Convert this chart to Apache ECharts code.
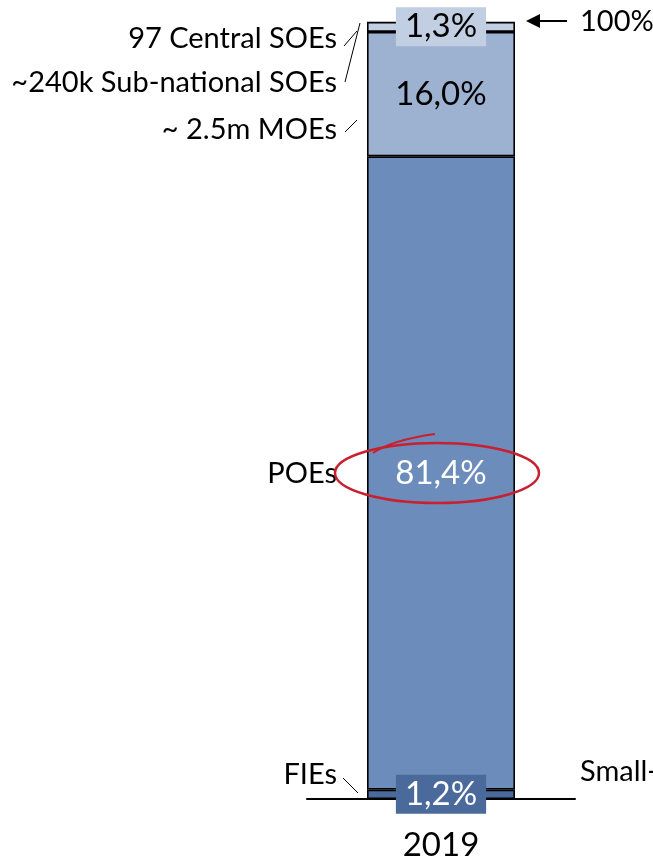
<!DOCTYPE html>
<html><head><meta charset="utf-8">
<script src="https://cdn.jsdelivr.net/npm/echarts@6/dist/echarts.min.js"></script>
<style>html,body{margin:0;padding:0;background:#fff;}#c{width:653px;height:863px;}</style>
</head><body><div id="c"></div>
<script>
const categories = ['2019'];
const seriesNames = ['FIEs', 'POEs', 'MOEs', 'SOEs'];
const fies = [1.2];
const poes = [81.4];
const moes = [16.0];
const soes = [1.3];
const valueLabels = ['1,2%', '81,4%', '16,0%', '1,3%'];

const FONT = 'Lato, "Open Sans", sans-serif';
const chart = echarts.init(document.getElementById('c'));
const colors = ['#4a6a9c', '#6c8dbb', '#9db1d1', '#c2cee2'];
const labelStyles = [
  {color: '#fff', backgroundColor: '#4a6a9c', padding: [4, 9, 2, 9]},
  {color: '#fff'},
  {color: '#000'},
  {color: '#000', backgroundColor: '#c2cee2', padding: [4, 9, 2, 9]}
];
const datas = [fies, poes, moes, soes];
chart.setOption({
  animation: false,
  grid: {left: 307, right: 78, top: 21, bottom: 64},
  xAxis: {
    type: 'category', data: categories,
    axisLine: {lineStyle: {color: '#000', width: 2}},
    axisTick: {show: false},
    axisLabel: {color: '#000', fontSize: 33, fontFamily: FONT, margin: 30}
  },
  yAxis: {type: 'value', min: 0, max: 100, show: false, splitLine: {show: false}},
  series: seriesNames.map((n, i) => ({
    name: n, type: 'bar', stack: 'a', barWidth: 148,
    data: datas[i],
    itemStyle: {color: colors[i], borderColor: '#000', borderWidth: 1.6},
    label: Object.assign({
      show: true, position: 'inside', fontSize: 33, fontFamily: FONT,
      formatter: () => valueLabels[i]
    }, labelStyles[i])
  }))
});

const txt = (x, y, s, align) => ({type: 'text', z: 100, x: x, y: y, style: {text: s, fontSize: 29, fontFamily: FONT, fill: '#000', align: align || 'right', verticalAlign: 'middle'}});
const ln = (x1, y1, x2, y2) => ({type: 'line', z: 100, shape: {x1, y1, x2, y2}, style: {stroke: '#000', lineWidth: 1}});
chart.setOption({
  graphic: [
    txt(337, 39, '97 Central SOEs'),
    txt(337, 83, '~240k Sub-national SOEs'),
    txt(337, 130, '~ 2.5m MOEs'),
    txt(337, 474, 'POEs'),
    txt(337, 775, 'FIEs'),
    txt(580, 772, 'Small-', 'left'),
    txt(580, 22, '100%', 'left'),
    ln(344, 46, 357, 31),
    ln(345, 82, 360, 23),
    ln(345, 132, 357, 120),
    ln(343, 778, 358, 793),
    {type: 'line', z: 100, shape: {x1: 534, y1: 21, x2: 567, y2: 21}, style: {stroke: '#000', lineWidth: 2}},
    {type: 'polygon', z: 100, shape: {points: [[526, 21], [540, 14], [540, 28]]}, style: {fill: '#000'}},
    {type: 'ellipse', z: 100, shape: {cx: 437, cy: 473, rx: 102, ry: 30}, style: {fill: 'none', stroke: '#c8202f', lineWidth: 2.5}},
    {type: 'bezierCurve', z: 100, shape: {x1: 373, y1: 453, x2: 435, y2: 434, cpx1: 392, cpy1: 440}, style: {fill: 'none', stroke: '#c8202f', lineWidth: 2}}
  ]
});
</script></body></html>
